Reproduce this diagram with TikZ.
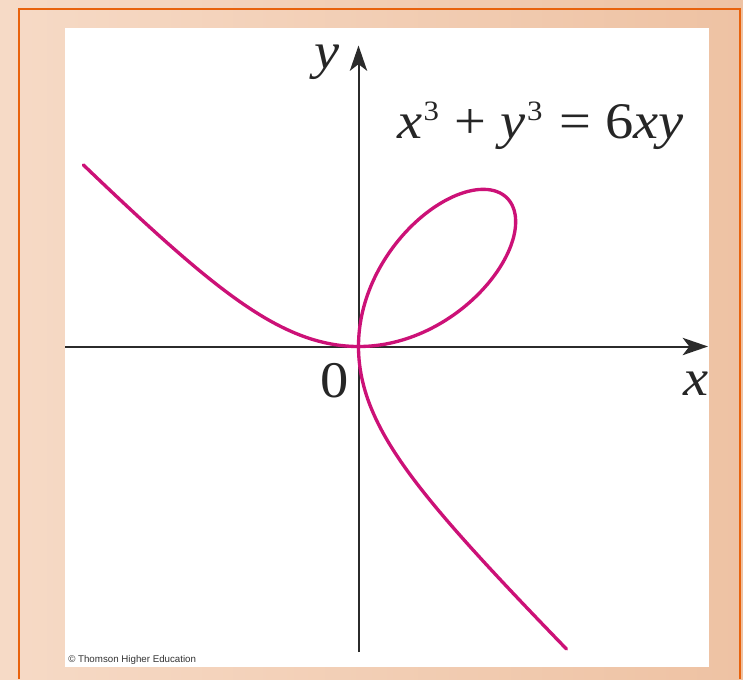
\documentclass[tikz,border=0pt]{standalone}
\usepackage{fontspec}
\setmainfont{Liberation Serif}
\newfontfamily\arialfont{Liberation Sans}
\usetikzlibrary{arrows.meta}
\definecolor{peachA}{HTML}{F6DAC6}
\definecolor{peachB}{HTML}{EEC2A3}
\definecolor{frameorange}{HTML}{E8620C}
\definecolor{curvemag}{HTML}{CC1177}
\definecolor{axisgray}{HTML}{2B2B2B}
\newcommand\supthree{\hspace{1pt}\raisebox{13.2pt}{\fontsize{21}{21}\selectfont 3}}
\newcommand\wide[1]{\scalebox{1.1}[1]{#1}}
\begin{document}
\begin{tikzpicture}[x=0.75pt,y=-0.75pt,
  axisline/.style={draw=axisgray, line width=1.5pt, -{Stealth[length=19pt,width=13pt,inset=5pt]}},
  curveline/.style={draw=curvemag, line width=2.5pt, line join=round, line cap=round},
  lbl/.style={font=\fontsize{38.5}{40}\selectfont, inner sep=0pt, anchor=base, text=black!85},
  copyr/.style={font=\arialfont\fontsize{7.3}{9}\selectfont, inner sep=0pt, anchor=base west, text=black!80}]
\useasboundingbox (0,0) rectangle (743,679);
% background
\shade[left color=peachA, right color=peachB] (0,0) rectangle (743,679);
% frame
\draw[frameorange, line width=1.5pt] (19,679) -- (19,9) -- (740,9) -- (740,679);
% white panel
\fill[white] (65,28) rectangle (709,667);
% axes
\coordinate (xl) at (65,346.5);
\coordinate (xr) at (708,346.5);
\coordinate (yb) at (358.5,652);
\coordinate (yt) at (358.5,45.5);
\draw[axisline] (xl) -- (xr);
\draw[axisline] (yb) -- (yt);
% folium
\begin{scope}[shift={(358.5,346.5)}, x=37.125pt, y=37.125pt]
\draw[curveline]
  plot[domain=-0.66:1, samples=220, variable=\t] ({6*\t/(1+\t*\t*\t)}, {6*\t*\t/(1+\t*\t*\t)})
  -- plot[domain=1:-0.69, samples=220, variable=\t] ({6*\t*\t/(1+\t*\t*\t)}, {6*\t/(1+\t*\t*\t)});
\end{scope}
% labels
\node[lbl] (ylab) at (327,68) {\wide{\itshape y}};
\node[lbl] (eq) at (540.5,138) {\wide{\itshape x\upshape\supthree\hspace{1pt} + \itshape y\upshape\supthree\hspace{2pt} = 6\itshape xy}};
\node[lbl] (zero) at (335,397) {\wide{0}};
\node[lbl] (xlab) at (696.5,395) {\wide{\itshape x}};
\node[copyr] (copy) at (68,662) {© Thomson Higher Education};
\end{tikzpicture}
\end{document}
